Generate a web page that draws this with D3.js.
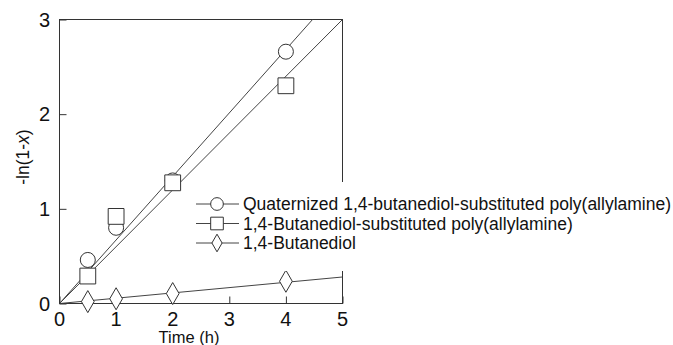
<!DOCTYPE html>
<html>
<head>
<meta charset="utf-8">
<script src="https://cdn.jsdelivr.net/npm/d3@7"></script>
<style>
  body { margin: 0; background: #fff; }
  text { font-family: Arial, "Liberation Sans", sans-serif; fill: #111; }
</style>
</head>
<body>
<div id="chart"></div>
<script>
const timeH = [0.5, 1, 2, 4];
const quaternized = [0.46, 0.80, 1.30, 2.66];
const substituted = [0.29, 0.92, 1.275, 2.30];
const butanediol = [0.02, 0.05, 0.105, 0.235];
const fitSlopes = [0.671, 0.6, 0.056];
const seriesNames = [
    'Quaternized 1,4-butanediol-substituted poly(allylamine)',
    '1,4-Butanediol-substituted poly(allylamine)',
    '1,4-Butanediol'
];
const xTicks = [0, 1, 2, 3, 4, 5];
const yTicks = [0, 1, 2, 3];

const width = 673, height = 345;
const plotLeft = 59.5, plotRight = 342.5, plotTop = 19.5, plotBottom = 303.5;

const svg = d3.select('#chart').append('svg')
    .attr('width', width)
    .attr('height', height);

const x = d3.scaleLinear().domain([0, 5]).range([plotLeft, plotRight]);
const y = d3.scaleLinear().domain([0, 3]).range([plotBottom, plotTop]);

svg.append('defs').append('clipPath').attr('id', 'plot')
    .append('rect')
    .attr('x', plotLeft).attr('y', plotTop)
    .attr('width', plotRight - plotLeft).attr('height', plotBottom - plotTop);

// frame
svg.append('rect')
    .attr('x', plotLeft).attr('y', plotTop)
    .attr('width', plotRight - plotLeft).attr('height', plotBottom - plotTop)
    .attr('fill', 'none')
    .attr('stroke', '#333')
    .attr('stroke-width', 1);

// inward ticks
const xAxis = svg.append('g')
    .attr('transform', `translate(0,${plotBottom})`)
    .call(d3.axisBottom(x).tickValues(xTicks).tickSizeInner(-7).tickSizeOuter(0).tickFormat(''));
const yAxis = svg.append('g')
    .attr('transform', `translate(${plotLeft},0)`)
    .call(d3.axisLeft(y).tickValues(yTicks).tickSizeInner(-7).tickSizeOuter(0).tickFormat(''));
[xAxis, yAxis].forEach(a => {
    a.select('.domain').remove();
    a.selectAll('line').attr('stroke', '#333');
});

svg.selectAll('.xlab')
    .data(xTicks)
    .enter().append('text')
    .attr('x', d => x(d))
    .attr('y', 326)
    .attr('text-anchor', 'middle')
    .attr('font-size', '20px')
    .text(d => d);

svg.selectAll('.ylab')
    .data(yTicks)
    .enter().append('text')
    .attr('x', 50)
    .attr('y', d => y(d) + 7)
    .attr('text-anchor', 'end')
    .attr('font-size', '20px')
    .text(d => d);

svg.append('text')
    .attr('x', 189)
    .attr('y', 343)
    .attr('text-anchor', 'middle')
    .attr('font-size', '16.5px')
    .text('Time (h)');

const yTitle = svg.append('text')
    .attr('transform', 'translate(29,157) rotate(-90)')
    .attr('text-anchor', 'middle')
    .attr('font-size', '17.5px');
yTitle.append('tspan').text('-ln(1-');
yTitle.append('tspan').attr('font-style', 'italic').text('x');
yTitle.append('tspan').text(')');

// fitted lines through origin
const plot = svg.append('g').attr('clip-path', 'url(#plot)');
plot.selectAll('.fit')
    .data(fitSlopes)
    .enter().append('line')
    .attr('x1', x(0)).attr('y1', y(0))
    .attr('x2', x(5)).attr('y2', d => y(d * 5))
    .attr('stroke', '#444')
    .attr('stroke-width', 1);

const series = [quaternized, substituted, butanediol];
const shapes = [d3.symbolCircle, d3.symbolSquare, d3.symbolDiamond];
const sizes = [177, 250, 140];
const legendSizes = [127, 160, 90];

series.forEach((vals, i) => {
    svg.selectAll('.pt' + i)
        .data(vals)
        .enter().append('path')
        .attr('d', d3.symbol().type(shapes[i]).size(sizes[i]))
        .attr('transform', (d, j) => `translate(${x(timeH[j])},${y(d)})`)
        .attr('fill', '#fff')
        .attr('stroke', '#333')
        .attr('stroke-width', 1);
});

// legend
const legend = svg.append('g');
legend.append('rect')
    .attr('x', 192).attr('y', 182)
    .attr('width', 481).attr('height', 89)
    .attr('fill', '#fff');

const rowY = [204, 223.5, 243];
seriesNames.forEach((name, i) => {
    const g = legend.append('g').attr('transform', `translate(0,${rowY[i]})`);
    g.append('line')
        .attr('x1', 196).attr('x2', 239)
        .attr('y1', 0).attr('y2', 0)
        .attr('stroke', '#444');
    g.append('path')
        .attr('d', d3.symbol().type(shapes[i]).size(legendSizes[i]))
        .attr('transform', 'translate(217,0)')
        .attr('fill', '#fff')
        .attr('stroke', '#333');
    g.append('text')
        .attr('x', 243)
        .attr('y', 6)
        .attr('font-size', '17.5px')
        .text(name);
});
</script>
</body>
</html>
